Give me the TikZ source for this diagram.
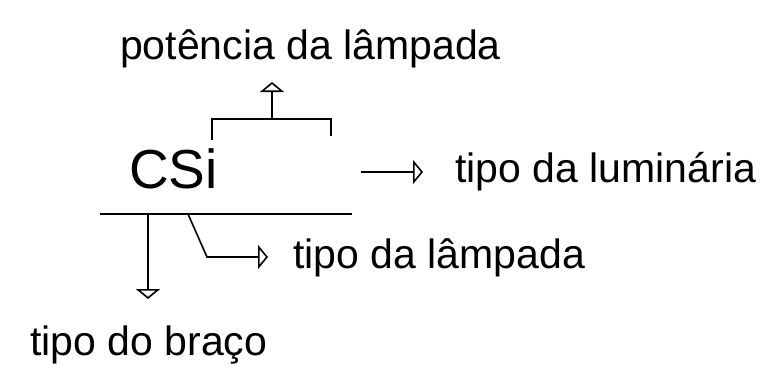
\documentclass[tikz,border=0pt]{standalone}
\usepackage{fontspec}
\setmainfont{Liberation Sans}
\usetikzlibrary{arrows.meta}
\begin{document}
\begin{tikzpicture}[x=1pt,y=-1pt,
  lbl/.style={anchor=base west,inner sep=0pt,font=\fontsize{41}{49}\selectfont},
  big/.style={anchor=base west,inner sep=0pt,font=\fontsize{55}{66}\selectfont},
  ln/.style={line width=1.6pt,line join=miter},
  arr/.style={ln,-{Triangle[open,length=10pt,width=24pt,line width=1.6pt]}}]
\useasboundingbox (0,0) rectangle (776,365);
% texts
\node[lbl] (pot) at (120,59) {potência da lâmpada};
\node[big] (csi) at (129,188) {CSi};
\node[lbl] (lum) at (455,182) {tipo da luminária};
\node[lbl] (lamp) at (293,268) {tipo da lâmpada};
\node[lbl] (braco) at (30,355) {tipo do braço};
% coordinates
\coordinate (hl) at (100,214);
\coordinate (hr) at (352,214);
\coordinate (d0) at (148,214);
\coordinate (d1) at (148,299);
\coordinate (g0) at (188,214);
\coordinate (g1) at (207,257);
\coordinate (g2) at (268,257);
\coordinate (r0) at (361,172);
\coordinate (r1) at (423,172);
\coordinate (b1) at (212,140);
\coordinate (b2) at (212,119);
\coordinate (b3) at (331,119);
\coordinate (b4) at (331,136);
\coordinate (s0) at (272,119);
\coordinate (s1) at (272,82);
% connectors
\draw[ln] (hl) -- (hr);
\draw[arr] (d0) -- (d1);
\draw[arr] (g0) -- (g1) -- (g2);
\draw[arr] (r0) -- (r1);
\draw[ln] (b1) -- (b2) -- (b3) -- (b4);
\draw[arr] (s0) -- (s1);
\end{tikzpicture}
\end{document}
